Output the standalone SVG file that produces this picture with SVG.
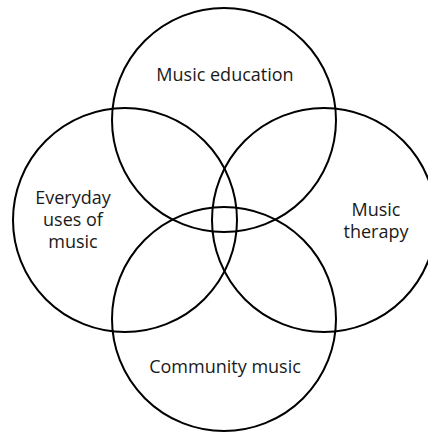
<svg xmlns="http://www.w3.org/2000/svg" width="428" height="433" viewBox="0 0 428 433">
<style>
.c{fill:none;stroke:#000;stroke-width:2}
.t{font-family:"Open Sans","Liberation Sans",sans-serif;font-size:18px;fill:#1a1a1a;text-anchor:middle}
</style>
<rect width="428" height="433" fill="#fff"/>
<g id="music-education"><circle class="c" cx="224" cy="120" r="112"/><text class="t" x="225" y="81">Music education</text></g>
<g id="everyday-uses"><circle class="c" cx="125" cy="220" r="112"/><text class="t" x="73" y="204">Everyday</text><text class="t" x="73" y="226">uses of</text><text class="t" x="73" y="248">music</text></g>
<g id="music-therapy"><circle class="c" cx="324" cy="220" r="112"/><text class="t" x="376" y="216">Music</text><text class="t" x="376" y="238">therapy</text></g>
<g id="community-music"><circle class="c" cx="224" cy="319" r="112"/><text class="t" x="225" y="373">Community music</text></g>
<g id="connectors"/>
</svg>
